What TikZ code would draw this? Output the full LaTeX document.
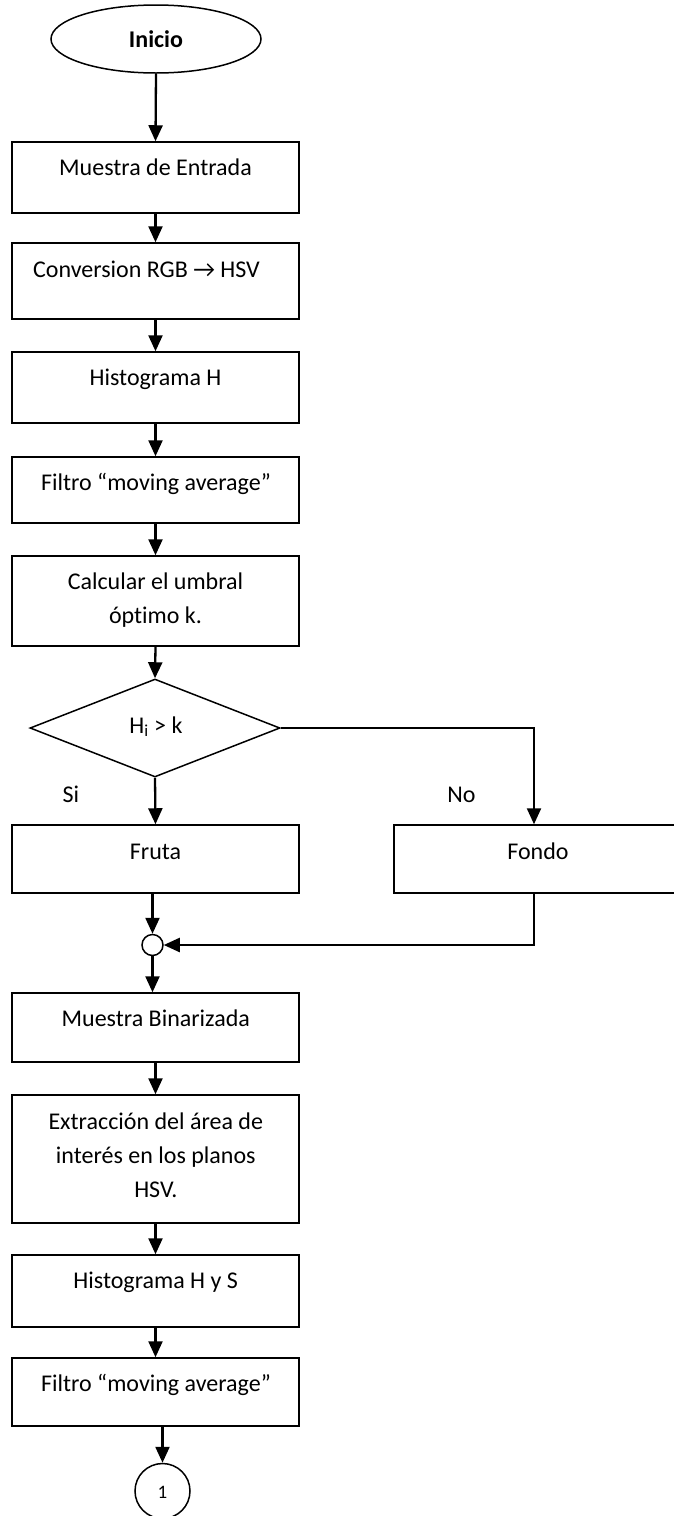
\documentclass[tikz,border=0pt]{standalone}
\usepackage{fontspec}
\setmainfont{Carlito}[Ligatures=NoCommon]
\usetikzlibrary{shapes.geometric,arrows.meta}
\begin{document}
\begin{tikzpicture}[x=1pt,y=-1pt,
  box/.style={draw,line width=1.5pt,minimum width=287pt,inner sep=0pt},
  txt/.style={font=\fontsize{24}{34}\selectfont,align=center,inner sep=0pt,anchor=base},
  arr/.style={line width=2.3pt,-{Triangle[length=16pt,width=14pt]}},
  ln/.style={line width=2.3pt}]
\useasboundingbox (0,0) rectangle (673,1516);
% start
\node[ellipse,draw,line width=1.5pt,minimum width=210pt,minimum height=68pt,inner sep=0pt] (inicio) at (156,39) {};
\node[txt,font=\fontsize{24}{34}\selectfont\bfseries] (tinicio) at (156,47) {Inicio};
% boxes
\node[box,minimum height=71pt] (b1) at (155.5,177.5) {};
\node[txt] (t1) at (155.5,175.5) {Muestra de Entrada};
\node[box,minimum height=76pt] (b2) at (155.5,281) {};
\node[txt] (t2) at (146.5,277) {Conversion RGB \symbol{"2192} HSV};
\node[box,minimum height=71pt] (b3) at (155.5,387.5) {};
\node[txt] (t3) at (155.5,385.7) {Histograma H};
\node[box,minimum height=66pt] (b4) at (155.5,490) {};
\node[txt] (t4) at (156,490.7) {Filtro “moving average”};
\node[box,minimum height=90pt] (b5) at (155.5,601) {};
\node[txt] (t5) at (155.5,623.3) {Calcular el umbral\\óptimo k.};
% decision
\node[diamond,draw,line width=1.5pt,minimum width=250pt,minimum height=98pt,inner sep=0pt] (d) at (155,728) {};
\node[txt] (td) at (156,733) {H\textsubscript{i} > k};
\node[txt] (si) at (71,802) {Si};
\node[txt] (no) at (461.5,802) {No};
\node[box,minimum height=68pt] (fruta) at (155.5,859) {};
\node[txt] (tfruta) at (155.5,859.3) {Fruta};
\node[box,minimum height=68pt] (fondo) at (537.5,859) {};
\node[txt] (tfondo) at (538,859.3) {Fondo};
\coordinate (nx) at (534,0);
% junction
\node[circle,draw,line width=1.5pt,minimum size=21pt,inner sep=0pt] (c) at (152.5,945) {};
% lower boxes
\node[box,minimum height=69pt] (b6) at (155.5,1027.5) {};
\node[txt] (t6) at (155.8,1026.7) {Muestra Binarizada};
\node[box,minimum height=128pt] (b7) at (155.5,1159) {};
\node[txt] (t7) at (155.8,1197) {Extracción del área de\\interés en los planos\\HSV.};
\node[box,minimum height=72pt] (b8) at (155.5,1291) {};
\node[txt] (t8) at (155.7,1288.3) {Histograma H y S};
\node[box,minimum height=68pt] (b9) at (155.5,1392) {};
\node[txt] (t9) at (156,1391.7) {Filtro “moving average”};
\node[circle,draw,line width=1.5pt,minimum size=55pt,inner sep=0pt] (e) at (162.5,1491) {};
\node[txt,font=\fontsize{19}{22}\selectfont] (te) at (162.5,1498.5) {1};
% connectors
\draw[arr] (inicio.south) -- (b1.north);
\draw[arr] (b1.south) -- (b2.north);
\draw[arr] (b2.south) -- (b3.north);
\draw[arr] (b3.south) -- (b4.north);
\draw[arr] (b4.south) -- (b5.north);
\draw[arr] (b5.south) -- (d.north);
\draw[arr] (d.south) -- (fruta.north);
\draw[arr] (d.east) -| (fondo.north -| nx);
\draw[arr] (fruta.south -| c) -- (c.north);
\draw[arr] (fondo.south -| nx) |- (c.east);
\draw[arr] (c.south) -- (b6.north -| c);
\draw[arr] (b6.south) -- (b7.north);
\draw[arr] (b7.south) -- (b8.north);
\draw[arr] (b8.south) -- (b9.north);
\draw[arr] (b9.south -| e) -- (e.north);
\end{tikzpicture}
\end{document}
